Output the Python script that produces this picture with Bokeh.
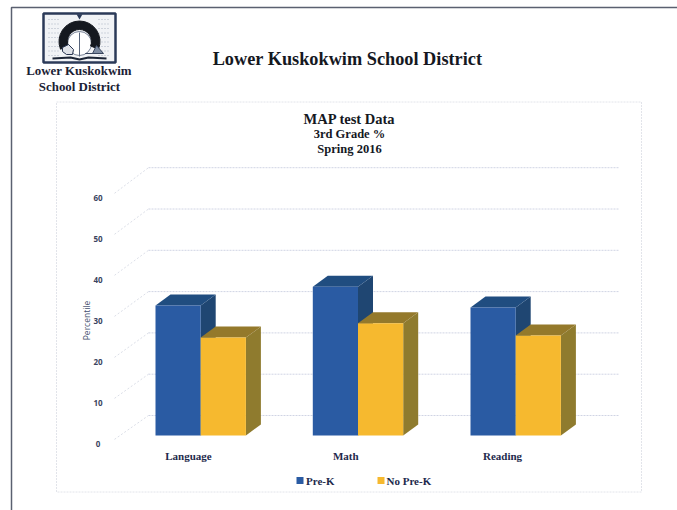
from bokeh.embed import file_html
from bokeh.resources import INLINE
from bokeh.plotting import figure
from bokeh.models import Range1d
from bokeh.core.properties import value
import numpy as np

# Data
categories = ["Language", "Math", "Reading"]
pre_k = [31.5, 36.0, 31.0]
no_pre_k = [23.7, 27.2, 24.2]
tick_values = [0, 10, 20, 30, 40, 50, 60]
series_names = ["Pre-K", "No Pre-K"]

# Page geometry, in window pixels
W, H = 677, 510
BASE_Y = 435.0          # bar baseline
PX_PER_UNIT = 4.13
DEPTH_X, DEPTH_Y = 15.0, 11.0     # oblique offset of the bars' back faces
WALL_DX, WALL_DY = 38.0, 28.0     # oblique offset of the side wall
BAR_W = 45.2
GROUP_LEFT = [155.0, 312.3, 470.0]

NAVY = "#1e2a4c"
BLUE, BLUE_TOP, BLUE_SIDE = "#2a5ba3", "#204d80", "#1f4672"
GOLD, GOLD_TOP, GOLD_SIDE = "#f6b92f", "#94792b", "#8f7b2e"
GRID = "#d0d4e4"
SERIF = value("Liberation Serif")
SANS = value("Open Sans")

p = figure(width=W, height=H, output_backend="svg", toolbar_location=None,
           x_range=Range1d(0, W),
           y_range=Range1d((BASE_Y - H) / PX_PER_UNIT, BASE_Y / PX_PER_UNIT),
           min_border=0, outline_line_color=None, background_fill_color="white",
           border_fill_color="white")
p.extra_y_ranges = {"px": Range1d(H, 0)}
p.xaxis.visible = False
p.yaxis.visible = False
p.xgrid.visible = False
p.ygrid.visible = False

# Page edge and the dotted chart frame
p.line([11, 11, W], [H, 7, 7], y_range_name="px", line_color="#5a6070", line_width=1.5)
p.line([56, 641, 641, 56, 56], [101.5, 101.5, 491.5, 491.5, 101.5], y_range_name="px",
       line_color="#e2e4ea", line_width=1, line_dash="2 1")

# Logo
p.quad(left=[43], right=[115], top=[13], bottom=[62], y_range_name="px",
       fill_color="#f1f3f6", line_color="#2b3a58", line_width=2.5)
for row in np.arange(19, 58, 4.5):
    for x0, x1 in ((48, 60), (98, 110)):
        p.segment(x0, row, x1, row, y_range_name="px", line_color="#aab2c2",
                  line_width=1, line_dash="1 2")
p.circle(x=[79], y=[43], radius=12, radius_units="screen", y_range_name="px",
         fill_color="white", line_color="#59667d", line_width=0.8)
p.annular_wedge(x=[79], y=[41], y_range_name="px", inner_radius=12, outer_radius=20.5,
                inner_radius_units="screen", outer_radius_units="screen",
                start_angle=np.radians(-22), end_angle=np.radians(202),
                fill_color="#14181f", line_color="#14181f")
p.scatter(x=[79], y=[15.5], y_range_name="px", marker="triangle", size=6, angle=np.pi,
          fill_color="#2b3a58", line_color=None)
p.segment(79, 32, 79, 56, y_range_name="px", line_color="#59667d", line_width=1)
p.patch([62, 68, 73, 72, 66, 62], [47, 44, 49, 54, 54, 51], y_range_name="px",
        fill_color="#dfe2e8", line_color="#27344f", line_width=1)
p.patch([92, 96, 103, 85], [53, 45, 53, 53], y_range_name="px",
        fill_color="#7f8da3", line_color="#39465e", line_width=1)
p.line([52, 70, 79, 88, 106], [58, 57, 59, 57, 58], y_range_name="px",
       line_color="#1c2536", line_width=2)

# Headings
def heading(x, y, label, size, font=SERIF, style="bold", color="#15181f", angle=0.0, align="center"):
    p.text(x=[x], y=[y], text=[label], y_range_name="px", text_font=font,
           text_font_size=f"{size}px", text_font_style=style, text_color=color,
           text_align=align, text_baseline="middle", angle=angle)

heading(78.5, 70.5, "Lower Kuskokwim", 12.9, color="#1b2235")
heading(79, 86, "School District", 12.9, color="#1b2235")
heading(347, 58, "Lower Kuskokwim School District", 18.3)
heading(349, 118, "MAP test Data", 14.5)
heading(349, 133, "3rd Grade %", 12.5)
heading(349, 148, "Spring 2016", 12.5)

# Back wall gridlines and their slanted runs along the side wall
wall_left = 148.0
wall_right = 618.0
back_shift = 20.0 / PX_PER_UNIT     # back wall floor sits above the bar baseline
front_shift = -8.0 / PX_PER_UNIT    # front edge of the side wall sits below it
ticks = np.array(tick_values, dtype=float)
p.segment(x0=wall_left, x1=wall_right, y0=ticks + back_shift, y1=ticks + back_shift,
          line_color=GRID, line_width=1, line_dash="2 1")
p.segment(x0=wall_left - WALL_DX + 4, x1=wall_left, y0=ticks * 0.993 + front_shift + 1,
          y1=ticks + back_shift, line_color="#dcdfe8", line_width=1, line_dash="2 2")

# Three-dimensional columns: side and top faces first, then the front
def column_faces(left, values, front, top, side):
    left = np.asarray(left)
    values = np.asarray(values)
    right = left + BAR_W
    dy = DEPTH_Y / PX_PER_UNIT
    p.patches(xs=[[r, r + DEPTH_X, r + DEPTH_X, r] for r in right],
              ys=[[0, dy, v + dy, v] for v in values],
              fill_color=side, line_color=None)
    p.patches(xs=[[l, l + DEPTH_X, r + DEPTH_X, r] for l, r in zip(left, right)],
              ys=[[v, v + dy, v + dy, v] for v in values],
              fill_color=top, line_color=None)
    p.quad(left=left, right=right, bottom=0, top=values, fill_color=front, line_color=None)

column_faces(GROUP_LEFT, pre_k, BLUE, BLUE_TOP, BLUE_SIDE)
column_faces(np.array(GROUP_LEFT) + BAR_W, no_pre_k, GOLD, GOLD_TOP, GOLD_SIDE)

# Value labels on the side wall
p.text(x=[97.5] * len(tick_values), y=ticks * 0.993 + front_shift - 0.2,
       text=[str(t) for t in tick_values], text_font=SANS, text_font_size="8px",
       text_font_style="bold", text_color="#3a4460", text_align="center",
       text_baseline="middle")
heading(85.5, 320, "Percentile", 8.5, font=SANS, style="normal", color="#45506e",
        angle=np.pi / 2)

# Category labels under each pair of columns
p.text(x=np.array(GROUP_LEFT) + [33, 33, 32], y=[-5.0] * 3, text=categories,
       text_font=SERIF, text_font_size="11px", text_font_style="bold", text_color=NAVY,
       text_align="center", text_baseline="middle")

# Legend
p.quad(left=[296, 377], right=[303, 384], top=[476.5, 476.5], bottom=[483.5, 483.5],
       y_range_name="px", fill_color=[BLUE, GOLD], line_color=None)
p.text(x=[305.5, 386], y=[480, 480], text=series_names, y_range_name="px", text_font=SERIF,
       text_font_size="11px", text_font_style="bold", text_color=NAVY,
       text_align="left", text_baseline="middle")

open("out.html", "w").write(file_html(p, INLINE))
